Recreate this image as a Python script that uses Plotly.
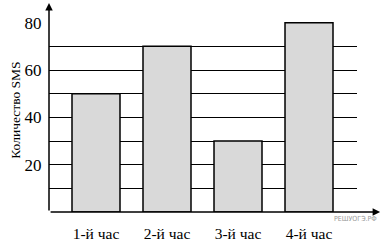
import plotly.graph_objects as go

categories = ["1-й час", "2-й час", "3-й час", "4-й час"]
values = [50, 70, 30, 80]
y_tick_vals = [20, 40, 60, 80]
y_title = "Количество SMS"
watermark = "РЕШУОГЭ.РФ"

serif = "Liberation Serif"

fig = go.Figure(go.Bar(
    x=list(range(len(categories))), y=values,
    width=0.676,
    marker=dict(color="#d9d9d9", line=dict(color="black", width=1.5)),
))

fig.update_layout(
    width=383, height=245,
    margin=dict(l=49, r=26, t=22, b=33),
    paper_bgcolor="white", plot_bgcolor="white",
    showlegend=False,
    font=dict(family=serif, color="black"),
    xaxis=dict(
        range=[-0.662, 3.676],
        tickvals=list(range(len(categories))), ticktext=categories,
        tickfont=dict(family=serif, size=15.5, color="black"),
        ticks="outside", ticklen=7, tickcolor="rgba(0,0,0,0)",
        showgrid=False, zeroline=False, showline=False,
        automargin=False,
    ),
    yaxis=dict(
        range=[0, 80.3],
        tickvals=y_tick_vals,
        tickfont=dict(family=serif, size=17, color="black"),
        ticks="outside", ticklen=3, tickcolor="rgba(0,0,0,0)",
        showgrid=True, gridcolor="black", gridwidth=1,
        minor=dict(dtick=10, tick0=0, showgrid=True, gridcolor="black", gridwidth=1),
        zeroline=False, showline=False, automargin=False,
    ),
)

fig.add_annotation(xref="paper", yref="paper", x=-0.14, y=0.535, textangle=-90,
                   text=y_title, showarrow=False,
                   font=dict(family=serif, size=13.5, color="black"))

# axis arrows
fig.add_annotation(xref="paper", yref="paper", axref="pixel", ayref="pixel",
                   x=1.075, y=0, ax=-331, ay=0, showarrow=True,
                   arrowhead=2, arrowsize=1, arrowwidth=1.5, arrowcolor="black", text="")
fig.add_annotation(xref="paper", yref="paper", axref="pixel", ayref="pixel",
                   x=0, y=1.1, ax=0, ay=209, showarrow=True,
                   arrowhead=2, arrowsize=1, arrowwidth=1.5, arrowcolor="black", text="")

fig.add_annotation(xref="paper", yref="paper", x=1.07, y=0, xanchor="right", yanchor="top",
                   yshift=-1, text=watermark, showarrow=False,
                   font=dict(family="DejaVu Sans Condensed", size=7, color="#999999"))

fig.write_html("out.html")
